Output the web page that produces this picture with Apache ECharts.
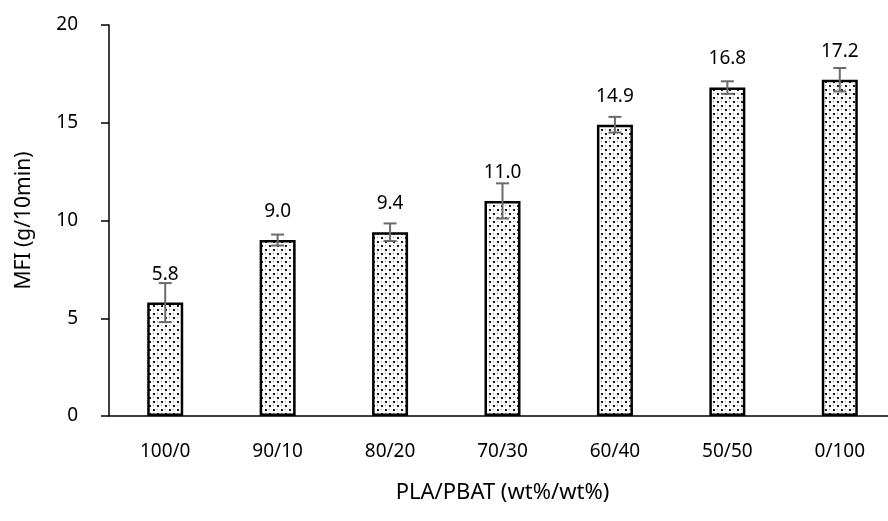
<!DOCTYPE html>
<html><head><meta charset="utf-8">
<script src="https://cdn.jsdelivr.net/npm/echarts@6/dist/echarts.min.js"></script>
<style>html,body{margin:0;padding:0;background:#fff}#c{width:888px;height:521px}</style>
</head><body><div id="c"></div>
<script>
const categories = ['100/0','90/10','80/20','70/30','60/40','50/50','0/100'];
const mfiValues = [5.8, 9.0, 9.4, 11.0, 14.9, 16.8, 17.2];
const mfiErrors = [1.0, 0.28, 0.45, 0.9, 0.4, 0.32, 0.6];
const yTicks = [0, 5, 10, 15, 20];

const FONT = '"Noto Sans", "DejaVu Sans", sans-serif';

// dotted fill pattern
const pc = document.createElement('canvas');
pc.width = 8; pc.height = 8;
const pctx = pc.getContext('2d');
pctx.fillStyle = '#fff'; pctx.fillRect(0,0,8,8);
pctx.fillStyle = '#1a1a1a';
pctx.fillRect(1,1,2,2);
pctx.fillRect(5,5,2,2);
pctx.fillStyle = '#999';
pctx.fillRect(5,1,1,1);
pctx.fillRect(1,5,1,1);

const errData = mfiValues.map((v,i)=>[i, v - mfiErrors[i], v + mfiErrors[i]]);

const chart = echarts.init(document.getElementById('c'), null, {renderer:'canvas'});
chart.setOption({
  animation: false,
  backgroundColor: '#fff',
  grid: {left: 109, top: 25, width: 787, height: 391, containLabel: false, outerBoundsMode: 'none'},
  xAxis: {
    type: 'category', data: categories,
    axisLine: {lineStyle: {color: '#000', width: 1.5}},
    axisTick: {show: false},
    axisLabel: {color: '#000', fontSize: 19, fontFamily: FONT, margin: 26},
    name: 'PLA/PBAT (wt%/wt%)', nameLocation: 'middle', nameGap: 66,
    nameTextStyle: {color: '#000', fontSize: 22, fontFamily: FONT}
  },
  yAxis: {
    type: 'value', min: yTicks[0], max: yTicks[yTicks.length-1], interval: 5,
    axisLine: {show: true, lineStyle: {color: '#000', width: 1.5}},
    axisTick: {show: true, length: 8, lineStyle: {color: '#000', width: 1.5}},
    splitLine: {show: false},
    axisLabel: {color: '#000', fontSize: 19, fontFamily: FONT, margin: 31},
    name: 'MFI (g/10min)', nameLocation: 'middle', nameGap: 74, nameRotate: 90,
    nameTextStyle: {color: '#000', fontSize: 21, fontFamily: FONT}
  },
  series: [
    {
      type: 'bar', data: mfiValues, barWidth: 36,
      itemStyle: {color: {image: pc, repeat: 'repeat'}, borderColor: '#000', borderWidth: 2.5},
      label: {show: true, position: 'top', distance: 19, color: '#000', fontSize: 19, fontFamily: FONT,
        formatter: p => p.value.toFixed(1)},
      z: 2
    },
    {
      type: 'custom', data: errData, z: 5,
      encode: {x: 0, y: [1, 2]},
      renderItem: function(params, api) {
        const i = api.value(0);
        const lo = api.coord([i, api.value(1)]);
        const hi = api.coord([i, api.value(2)]);
        const hw = 6.5;
        const st = {stroke: '#6b6b6b', lineWidth: 2};
        return {type: 'group', children: [
          {type: 'line', shape: {x1: hi[0], y1: hi[1], x2: lo[0], y2: lo[1]}, style: st},
          {type: 'line', shape: {x1: hi[0]-hw, y1: hi[1], x2: hi[0]+hw, y2: hi[1]}, style: st},
          {type: 'line', shape: {x1: lo[0]-hw, y1: lo[1], x2: lo[0]+hw, y2: lo[1]}, style: st}
        ]};
      }
    }
  ]
});
</script></body></html>
